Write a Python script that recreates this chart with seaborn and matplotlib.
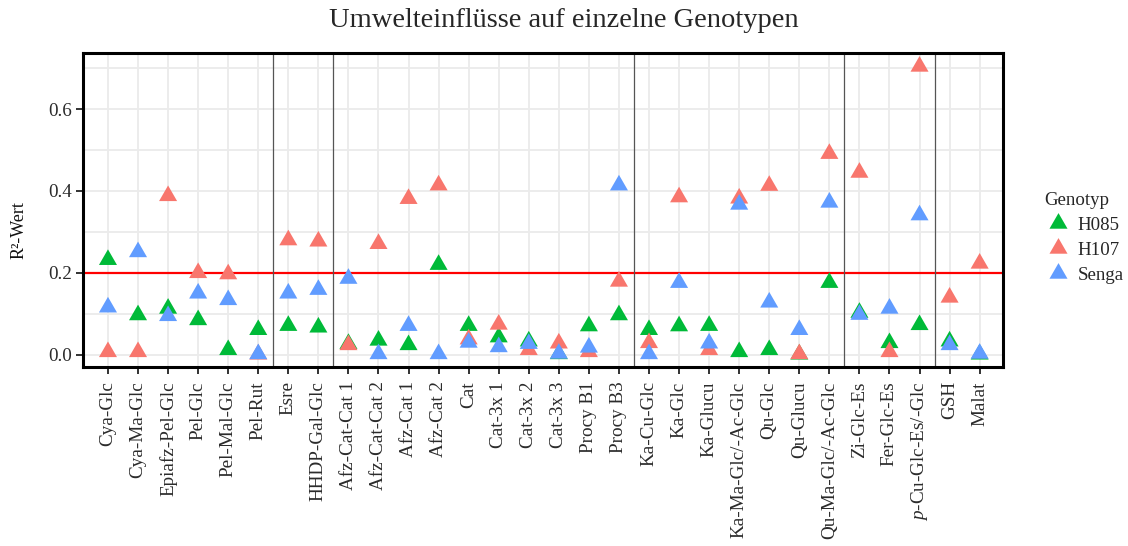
import numpy as np
import pandas as pd
import matplotlib
matplotlib.use("Agg")
import matplotlib.pyplot as plt
from matplotlib.path import Path
import seaborn as sns

# Metabolites on the x axis
compounds = [
    "Cya-Glc", "Cya-Ma-Glc", "Epiafz-Pel-Glc", "Pel-Glc", "Pel-Mal-Glc", "Pel-Rut",
    "Esre", "HHDP-Gal-Glc",
    "Afz-Cat-Cat 1", "Afz-Cat-Cat 2", "Afz-Cat 1", "Afz-Cat 2", "Cat", "Cat-3x 1",
    "Cat-3x 2", "Cat-3x 3", "Procy B1", "Procy B3",
    "Ka-Cu-Glc", "Ka-Glc", "Ka-Glucu", "Ka-Ma-Glc/-Ac-Glc", "Qu-Glc", "Qu-Glucu",
    "Qu-Ma-Glc/-Ac-Glc",
    "Zi-Glc-Es", "Fer-Glc-Es", "$\\mathit{p}$-Cu-Glc-Es/-Glc",
    "GSH", "Malat",
]

# R² values per genotype
r2_h085 = [0.232, 0.097, 0.113, 0.085, 0.012, 0.061, 0.071, 0.067, 0.027, 0.035,
           0.024, 0.220, 0.071, 0.043, 0.033, 0.002, 0.070, 0.097, 0.061, 0.070,
           0.071, 0.007, 0.012, 0.001, 0.176, 0.103, 0.029, 0.073, 0.033, 0.001]
r2_h107 = [0.007, 0.007, 0.388, 0.200, 0.197, 0.001, 0.280, 0.277, 0.024, 0.271,
           0.381, 0.414, 0.038, 0.074, 0.012, 0.028, 0.007, 0.179, 0.029, 0.385,
           0.012, 0.382, 0.413, 0.002, 0.491, 0.445, 0.007, 0.704, 0.140, 0.223]
r2_senga = [0.116, 0.251, 0.095, 0.150, 0.134, 0.002, 0.150, 0.159, 0.186, 0.002,
            0.071, 0.002, 0.030, 0.019, 0.027, 0.003, 0.018, 0.414, 0.002, 0.176,
            0.028, 0.367, 0.128, 0.061, 0.372, 0.098, 0.113, 0.341, 0.024, 0.003]

genotypes = ["H085", "H107", "Senga"]
colors = ["#00BA38", "#F8766D", "#619CFF"]
y_ticks = [0.0, 0.2, 0.4, 0.6]
threshold = 0.2
# boundaries between compound groups
group_breaks = [5.5, 7.5, 17.5, 24.5, 27.5]

df = pd.concat([
    pd.DataFrame({"Verbindung": compounds, "R2": vals, "Genotyp": g})
    for g, vals in zip(genotypes, [r2_h085, r2_h107, r2_senga])
], ignore_index=True)

sns.set_theme(style="white")
plt.rcParams["font.family"] = ["Liberation Serif", "DejaVu Serif"]
plt.rcParams["mathtext.fontset"] = "custom"
plt.rcParams["mathtext.rm"] = "Liberation Serif"
plt.rcParams["mathtext.it"] = "Liberation Serif:italic"

# equilateral triangle centred on its centroid
tri = Path([(0, 1), (-0.866, -0.5), (0.866, -0.5), (0, 1)],
           [Path.MOVETO, Path.LINETO, Path.LINETO, Path.CLOSEPOLY])

fig = plt.figure(figsize=(11.28, 5.46), dpi=100)
ax = fig.add_axes([0.0736, 0.327, 0.889 - 0.0736, 0.903 - 0.327])

ax.set_ylim(-0.031, 0.737)

ax.set_yticks(np.arange(0.1, 0.75, 0.2), minor=True)
ax.set_yticks(y_ticks)
ax.set_yticklabels([f"{t:.1f}" for t in y_ticks])
ax.grid(True, which="both", axis="both", color="#EBEBEB", lw=1.3, zorder=0)
ax.set_axisbelow(True)

ax.axhline(threshold, color="#FF0000", lw=1.6, zorder=1)
for b in group_breaks:
    ax.axvline(b, color="#555555", lw=0.9, zorder=1)

sns.scatterplot(data=df, x="Verbindung", y="R2", hue="Genotyp",
                hue_order=genotypes, palette=colors, marker=tri, s=225,
                linewidth=0, ax=ax, zorder=3)

ax.set_xlim(-0.83, len(compounds) - 1 + 0.77)
ax.set_xticks(range(len(compounds)))
ax.set_xticklabels(compounds, rotation=90)
ax.set_xlabel("")
ax.set_ylabel("R²-Wert", fontsize=13, color="#111111")
ax.yaxis.set_label_coords(-0.06, 0.436)

ax.tick_params(axis="both", which="major", length=5, width=1.3, color="#222222",
               labelsize=13.8, labelcolor="#2b2b2b", pad=3, bottom=True, left=True)
ax.tick_params(axis="both", which="minor", length=0)
ax.tick_params(axis="x", pad=5)

for s in ax.spines.values():
    s.set_color("black")
    s.set_linewidth(2.2)
    s.set_visible(True)

fig.suptitle("Umwelteinflüsse auf einzelne Genotypen", fontsize=20.5, y=0.963,
             va="center")

sns.move_legend(ax, "center left", bbox_to_anchor=(1.027, 0.412), frameon=False,
                title="Genotyp", fontsize=13.6, title_fontsize=13.6,
                handlelength=1.4, handletextpad=0.35, labelspacing=0.4,
                markerscale=1.0)
leg = ax.get_legend()
leg._legend_box.align = "left"

fig.savefig("out.png", dpi=100)
